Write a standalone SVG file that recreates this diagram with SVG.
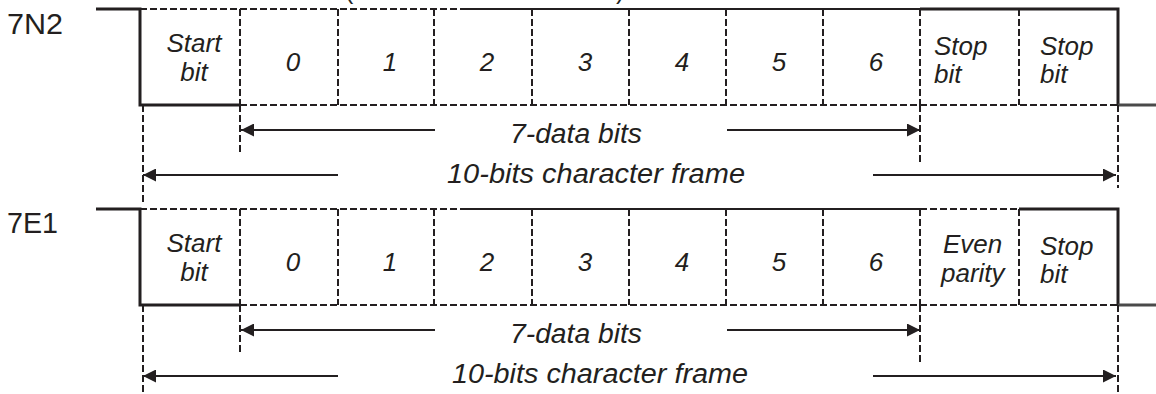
<svg xmlns="http://www.w3.org/2000/svg" width="1156" height="394" viewBox="0 0 1156 394">
<style>
.thick{fill:none;stroke:#231f20;stroke-width:3;stroke-linejoin:miter}
.thin{fill:none;stroke:#231f20;stroke-width:2}
.dash{fill:none;stroke:#231f20;stroke-width:2;stroke-dasharray:7 3}
.arr{fill:none;stroke:#231f20;stroke-width:2.2}
.gray{fill:none;stroke:#4a4a4a;stroke-width:3}
text{font-family:"Liberation Sans",Arial,sans-serif;fill:#231f20}
.lbl{font-size:29px}
.cell{font-size:26px;font-style:italic}
.mid{text-anchor:middle}
.span{font-size:27px;font-style:italic}
</style>
<defs>
<marker id="ah" markerUnits="userSpaceOnUse" markerWidth="13" markerHeight="13" refX="13" refY="6.5" orient="auto">
<path d="M0,0 L13,6.5 L0,13 z" fill="#231f20"/>
</marker>
</defs>

<text x="345" y="-1" style="font-size:25px">(</text>
<text x="616" y="-1" style="font-size:25px">)</text>

<g id="frame-7N2">
<text class="lbl" x="7" y="34" textLength="56" lengthAdjust="spacingAndGlyphs">7N2</text>
<polyline class="thick" points="96,9 140,9 140,105 240,105"/>
<line class="dash" x1="140" y1="9" x2="463" y2="9"/>
<line class="thin" x1="463" y1="9" x2="920" y2="9"/>
<polyline class="thick" points="920,9 1118,9 1118,105"/>
<line class="gray" x1="1118" y1="105" x2="1156" y2="105"/>
<line class="dash" x1="240" y1="105" x2="1118" y2="105"/>
<path class="dash" d="M240,9V105M338,9V105M434,9V105M532,9V105M629,9V105M726,9V105M823,9V105M920,9V105M1019,9V105"/>
<path class="dash" d="M143,105V203M240,105V153M920,105V163M1118,105V188"/>
<text class="cell mid" x="194" y="52">Start</text>
<text class="cell mid" x="194" y="81">bit</text>
<text class="cell mid" x="293" y="71">0</text>
<text class="cell mid" x="390" y="71">1</text>
<text class="cell mid" x="487" y="71">2</text>
<text class="cell mid" x="585" y="71">3</text>
<text class="cell mid" x="682" y="71">4</text>
<text class="cell mid" x="779" y="71">5</text>
<text class="cell mid" x="876" y="71">6</text>
<text class="cell" x="934" y="55">Stop</text>
<text class="cell" x="934" y="83">bit</text>
<text class="cell" x="1040" y="55">Stop</text>
<text class="cell" x="1040" y="83">bit</text>
<text class="span" x="510" y="143" textLength="132" lengthAdjust="spacingAndGlyphs">7-data bits</text>
<text class="span" x="447" y="183" textLength="298" lengthAdjust="spacingAndGlyphs">10-bits character frame</text>
</g>

<g id="frame-7E1">
<text class="lbl" x="7" y="233" textLength="51" lengthAdjust="spacingAndGlyphs">7E1</text>
<polyline class="thick" points="96,209 140,209 140,305 240,305"/>
<line class="dash" x1="140" y1="209" x2="463" y2="209"/>
<line class="thin" x1="463" y1="209" x2="920" y2="209"/>
<line class="dash" x1="920" y1="209" x2="1019" y2="209"/>
<polyline class="thick" points="1019,209 1118,209 1118,305"/>
<line class="gray" x1="1118" y1="305" x2="1156" y2="305"/>
<line class="dash" x1="240" y1="305" x2="1118" y2="305"/>
<path class="dash" d="M240,209V305M338,209V305M434,209V305M532,209V305M629,209V305M726,209V305M823,209V305M920,209V305M1019,209V305"/>
<path class="dash" d="M143,305V394M240,305V353M920,305V365M1118,305V394"/>
<text class="cell mid" x="194" y="252">Start</text>
<text class="cell mid" x="194" y="281">bit</text>
<text class="cell mid" x="293" y="271">0</text>
<text class="cell mid" x="390" y="271">1</text>
<text class="cell mid" x="487" y="271">2</text>
<text class="cell mid" x="585" y="271">3</text>
<text class="cell mid" x="682" y="271">4</text>
<text class="cell mid" x="779" y="271">5</text>
<text class="cell mid" x="876" y="271">6</text>
<text class="cell" x="943" y="253">Even</text>
<text class="cell" x="941" y="282">parity</text>
<text class="cell" x="1040" y="255">Stop</text>
<text class="cell" x="1040" y="283">bit</text>
<text class="span" x="510" y="343" textLength="132" lengthAdjust="spacingAndGlyphs">7-data bits</text>
<text class="span" x="452" y="383" textLength="296" lengthAdjust="spacingAndGlyphs">10-bits character frame</text>
</g>

<g id="connectors">
<line class="arr" x1="435" y1="130" x2="241" y2="130" marker-end="url(#ah)"/>
<line class="arr" x1="727" y1="130" x2="920" y2="130" marker-end="url(#ah)"/>
<line class="arr" x1="338" y1="175" x2="143" y2="175" marker-end="url(#ah)"/>
<line class="arr" x1="873" y1="175" x2="1116" y2="175" marker-end="url(#ah)"/>
<line class="arr" x1="435" y1="330" x2="241" y2="330" marker-end="url(#ah)"/>
<line class="arr" x1="727" y1="330" x2="920" y2="330" marker-end="url(#ah)"/>
<line class="arr" x1="338" y1="376" x2="143" y2="376" marker-end="url(#ah)"/>
<line class="arr" x1="873" y1="376" x2="1116" y2="376" marker-end="url(#ah)"/>
</g>
</svg>
